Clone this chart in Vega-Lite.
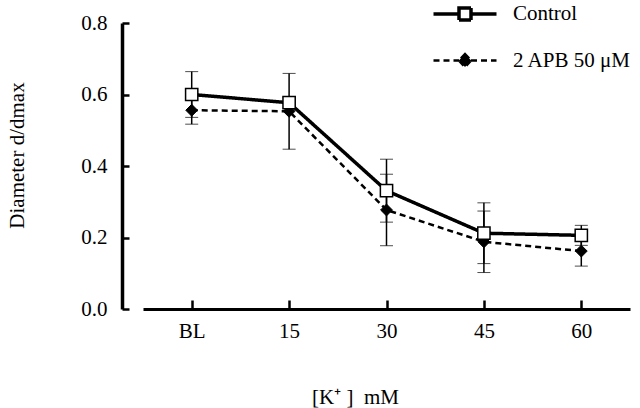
{
  "$schema": "https://vega.github.io/schema/vega-lite/v6.json",
  "width": 487,
  "height": 286,
  "autosize": {"type": "none"},
  "padding": {"left": 143, "top": 23, "right": 10, "bottom": 99},
  "background": "white",
  "config": {
    "view": {"stroke": null},
    "font": "Liberation Serif",
    "axis": {"grid": false, "domainColor": "black", "tickColor": "black", "labelColor": "black", "titleColor": "black", "labelFont": "Liberation Serif", "titleFont": "Liberation Serif", "labelFontSize": 21, "titleFontSize": 21, "titleFontWeight": "normal"},
    "legend": {"labelFont": "Liberation Serif", "labelFontSize": 21, "labelColor": "black"}
  },
  "data": {
    "values": [
      {"conc": "BL", "series": "Control", "mean": 0.600, "lo": 0.536, "hi": 0.664},
      {"conc": "15", "series": "Control", "mean": 0.577, "lo": 0.562, "hi": 0.592},
      {"conc": "30", "series": "Control", "mean": 0.331, "lo": 0.243, "hi": 0.419},
      {"conc": "45", "series": "Control", "mean": 0.212, "lo": 0.127, "hi": 0.297},
      {"conc": "60", "series": "Control", "mean": 0.206, "lo": 0.178, "hi": 0.234},
      {"conc": "BL", "series": "2 APB 50 μM", "mean": 0.556, "lo": 0.517, "hi": 0.595},
      {"conc": "15", "series": "2 APB 50 μM", "mean": 0.553, "lo": 0.447, "hi": 0.659},
      {"conc": "30", "series": "2 APB 50 μM", "mean": 0.277, "lo": 0.177, "hi": 0.377},
      {"conc": "45", "series": "2 APB 50 μM", "mean": 0.188, "lo": 0.102, "hi": 0.274},
      {"conc": "60", "series": "2 APB 50 μM", "mean": 0.162, "lo": 0.120, "hi": 0.204}
    ]
  },
  "encoding": {
    "x": {
      "field": "conc", "type": "ordinal", "sort": ["BL", "15", "30", "45", "60"],
      "scale": {"type": "point", "padding": 0.5},
      "axis": {"title": "[K⁺ ]\u00a0\u00a0mM", "labelFont": "Liberation Serif", "titleFont": "Liberation Serif", "labelAngle": 0, "domainWidth": 3, "tickWidth": 2.5, "tickSize": -9, "labelPadding": 20, "titleX": 212, "titleY": 88, "titleBaseline": "middle", "titleAnchor": "middle"}
    }
  },
  "layer": [
    {
      "mark": {"type": "errorbar", "ticks": {"size": 13, "strokeWidth": 1.5}, "rule": {"strokeWidth": 1.5}, "color": "black"},
      "encoding": {
        "y": {
          "field": "lo", "type": "quantitative",
          "scale": {"domain": [0, 0.8], "nice": false},
          "axis": {"title": "Diameter d/dmax", "labelFont": "Liberation Serif", "titleFont": "Liberation Serif", "values": [0, 0.2, 0.4, 0.6, 0.8], "format": ".1f", "offset": 21, "domainWidth": 3.5, "tickWidth": 2.5, "tickSize": -7, "labelPadding": 22, "titleX": -105, "titleY": 132, "titleBaseline": "middle", "titleAnchor": "middle"}
        },
        "y2": {"field": "hi"},
        "detail": {"field": "series"}
      }
    },
    {
      "mark": {"type": "line", "color": "black"},
      "encoding": {
        "y": {
          "field": "mean", "type": "quantitative",
          "axis": {"title": "Diameter d/dmax"}
        },
        "strokeDash": {
          "field": "series", "type": "nominal",
          "scale": {"domain": ["Control", "2 APB 50 μM"], "range": [[1, 0], [6, 4]]},
          "legend": {
            "title": null, "orient": "none", "legendX": 310, "legendY": -21, "symbolSize": 400,
            "symbolStrokeColor": "black", "labelOffset": 36, "rowPadding": 22, "padding": 0,
            "encode": {
              "symbols": {
                "update": {
                  "shape": {"signal": "datum.value === 'Control' ? 'M-3.15,0H-0.6M0.6,0H3.15M-0.6,-0.6H0.6V0.6H-0.6Z' : 'M-3.15,0H-0.6M0.6,0H3.15M0,-0.65L0.62,0L0,0.65L-0.62,0Z'"},
                  "fill": {"signal": "datum.value === 'Control' ? 'white' : 'black'"},
                  "fillOpacity": {"value": 1},
                  "stroke": {"value": "black"},
                  "strokeWidth": {"signal": "datum.value === 'Control' ? 3 : 2.5"}
                }
              }
            }
          }
        },
        "strokeWidth": {
          "field": "series", "type": "nominal",
          "scale": {"domain": ["Control", "2 APB 50 μM"], "range": [3.5, 2.5]},
          "legend": null
        }
      }
    },
    {
      "transform": [{"filter": "datum.series === '2 APB 50 μM'"}],
      "mark": {"type": "point", "shape": "diamond", "filled": true, "fill": "black", "stroke": "black", "strokeWidth": 1, "size": 140, "opacity": 1},
      "encoding": {
        "y": {"field": "mean", "type": "quantitative"}
      }
    },
    {
      "transform": [{"filter": "datum.series === 'Control'"}],
      "mark": {"type": "point", "shape": "square", "filled": true, "fill": "white", "stroke": "black", "strokeWidth": 1.5, "size": 150, "opacity": 1},
      "encoding": {
        "y": {"field": "mean", "type": "quantitative"}
      }
    }
  ]
}
